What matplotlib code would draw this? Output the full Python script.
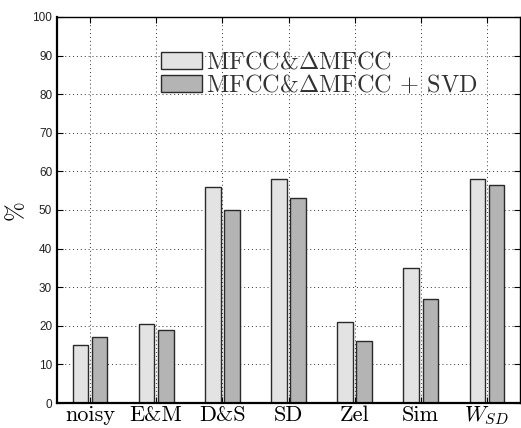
import matplotlib
matplotlib.use('Agg')
import matplotlib.pyplot as plt
import numpy as np

# recognition rate per test set, two feature configurations
categories = ['noisy', 'E&M', 'D&S', 'SD', 'Zel', 'Sim', 'W_SD']
tick_labels = ['noisy', 'E&M', 'D&S', 'SD', 'Zel', 'Sim', r'$W_{SD}$']
mfcc_delta = [15, 20.5, 56, 58, 21, 35, 58]
mfcc_delta_svd = [17, 19, 50, 53, 16, 27, 56.5]
series_labels = [r'MFCC&$\Delta$MFCC', r'MFCC&$\Delta$MFCC + SVD']

plt.rcParams['mathtext.fontset'] = 'cm'
plt.rcParams['font.family'] = ['Liberation Sans', 'DejaVu Sans']

fig = plt.figure(figsize=(5.21, 4.28), dpi=100)
ax = fig.add_axes([57 / 521, 25 / 428, 463 / 521, 386 / 428])

x = np.arange(1, len(categories) + 1)
w = 0.235
ax.bar(x - 0.145, mfcc_delta, width=w, color='#e3e3e3', edgecolor='#2a2a2a',
       linewidth=1.0, label=series_labels[0], zorder=2)
ax.bar(x + 0.145, mfcc_delta_svd, width=w, color='#b4b4b4', edgecolor='#2a2a2a',
       linewidth=1.0, label=series_labels[1], zorder=2)

ax.set_xlim(0.5, 7.5)
ax.set_ylim(0, 100)
ax.set_xticks(x)
ax.set_xticklabels(tick_labels, fontsize=16, family='cmr10')
ax.set_yticks(np.arange(0, 101, 10))
ax.tick_params(axis='y', labelsize=8.5, labelcolor='#222222')
ax.tick_params(direction='in', top=True, right=True, length=4, width=0.8)
ax.tick_params(axis='x', pad=1.5)
ax.set_ylabel('%', fontsize=17, family='cmr10', labelpad=4)

ax.grid(True, linestyle=(0, (1, 3)), color='#333333', linewidth=0.7, zorder=0)
ax.set_axisbelow(True)
for side in ['left', 'bottom']:
    ax.spines[side].set_linewidth(1.6)
for side in ['top', 'right']:
    ax.spines[side].set_linewidth(1.0)

leg = ax.legend(loc='upper left', bbox_to_anchor=(0.225, 0.91), frameon=False,
                prop={'family': 'cmr10', 'size': 17.5}, handlelength=1.7,
                handleheight=0.7, handletextpad=0.15, labelspacing=0.0,
                borderpad=0, borderaxespad=0)
for t in leg.get_texts():
    t.set_color('#333333')

fig.savefig('out.png', dpi=100)
plt.close()
